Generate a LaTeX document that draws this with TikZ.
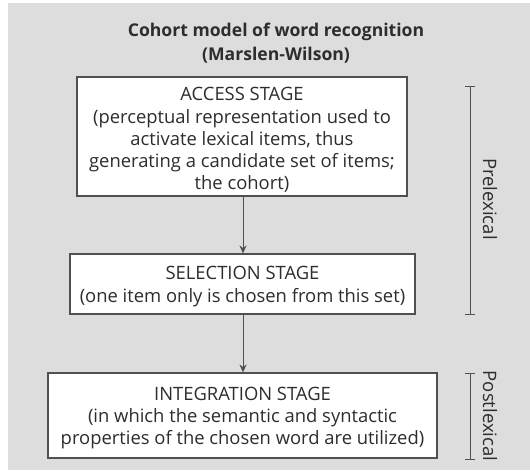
\documentclass[tikz,border=0pt]{standalone}
\usepackage{fontspec}
\setmainfont{Open Sans}
\usetikzlibrary{arrows.meta}
\definecolor{bg}{RGB}{221,221,221}
\definecolor{ink}{RGB}{45,45,45}
\definecolor{edge}{RGB}{80,80,80}
\tikzset{
  stagebox/.style={draw=edge, line width=1.1pt, fill=white, inner sep=0pt},
  stagetext/.style={text=ink, align=center, font=\fontsize{18.4}{22.2}\selectfont, inner sep=0pt},
  flow/.style={draw=edge, line width=0.9pt, -{Stealth[length=8pt,width=7pt]}},
  brack/.style={draw=edge, line width=0.8pt},
  sidelabel/.style={text=ink, rotate=-90, font=\fontsize{18.5}{20}\selectfont, inner sep=0pt},
}
\begin{document}
\begin{tikzpicture}[x=1pt,y=-1pt]
\useasboundingbox (0,0) rectangle (530,473);
\fill[white] (0,0) rectangle (530,473);
\fill[bg] (8,3) rectangle (530,470);
\node[text=ink, font=\bfseries\fontsize{17.6}{24}\selectfont, align=center] (title) at (276,43.5)
  {Cohort model of word recognition\\(Marslen-Wilson)};
\node[stagebox, minimum width=330pt, minimum height=119pt] (access) at (242,136.5) {};
\node[stagetext] (accesstxt) at (242,140) 
  {ACCESS STAGE\\(perceptual representation used to\\activate lexical items, thus\\generating a candidate set of items;\\the cohort)};
\node[stagebox, minimum width=345pt, minimum height=60pt] (select) at (242.5,284) {};
\node[stagetext] (selecttxt) at (242.5,286.5)
  {SELECTION STAGE\\(one item only is chosen from this set)};
\node[stagebox, minimum width=389pt, minimum height=85pt] (integ) at (242.5,415.5) {};
\node[stagetext] (integtxt) at (242.5,418)
  {INTEGRATION STAGE\\(in which the semantic and syntactic\\properties of the chosen word are utilized)};
\draw[flow] (access.south -| 243,0) -- (select.north -| 243,0);
\draw[flow] (select.south -| 243,0) -- (integ.north -| 243,0);
\coordinate (p1) at (470,86);
\coordinate (p2) at (470,314);
\coordinate (q1) at (470,373);
\coordinate (q2) at (470,459);
\draw[brack] (p1) -- (p2);
\draw[brack] ([xshift=-5pt]p1) -- ([xshift=5pt]p1);
\draw[brack] ([xshift=-5pt]p2) -- ([xshift=5pt]p2);
\draw[brack] (q1) -- (q2);
\draw[brack] ([xshift=-5pt]q1) -- ([xshift=5pt]q1);
\draw[brack] ([xshift=-5pt]q2) -- ([xshift=5pt]q2);
\node[sidelabel] (pre) at (490,199) {Prelexical};
\node[sidelabel] (post) at (490,416) {Postlexical};
\end{tikzpicture}
\end{document}
